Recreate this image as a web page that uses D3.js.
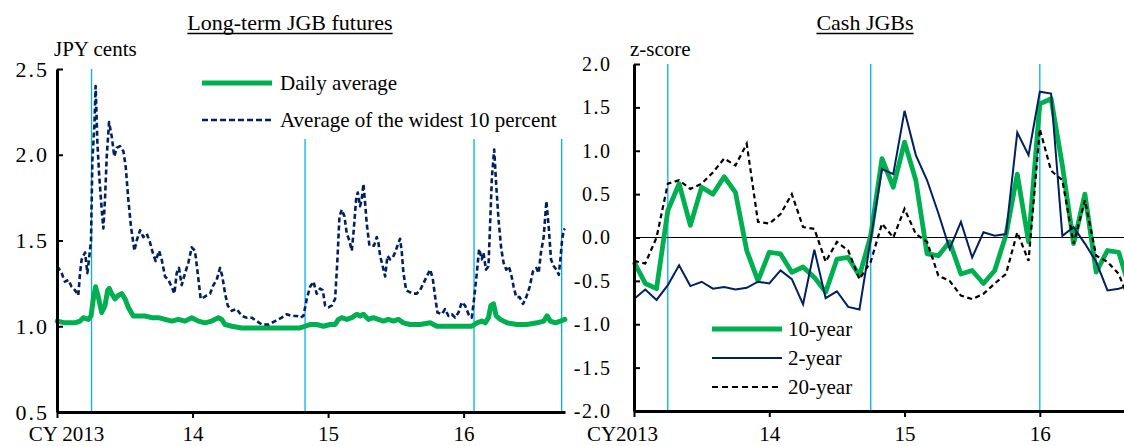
<!DOCTYPE html>
<html>
<head>
<meta charset="utf-8">
<script src="https://cdn.jsdelivr.net/npm/d3@7"></script>
<style>
  body { margin: 0; background: #fff; }
  svg { display: block; }
  text { font-family: "Liberation Serif", "Times New Roman", serif; fill: #000; }
</style>
</head>
<body>
<svg id="chart" width="1124" height="446"></svg>
<script>
// ---------- Long-term JGB futures: bid-ask spread (JPY cents), times as decimal years ----------
const wideYears = [2013.002,2013.010,2013.034,2013.059,2013.084,2013.108,2013.133,2013.157,2013.170,2013.182,2013.207,2013.224,2013.236,2013.251,2013.261,2013.276,2013.285,2013.298,2013.312,2013.330,2013.342,2013.354,2013.367,2013.384,2013.403,2013.423,2013.440,2013.465,2013.490,2013.507,2013.526,2013.546,2013.571,2013.588,2013.613,2013.637,2013.662,2013.686,2013.706,2013.728,2013.753,2013.772,2013.797,2013.822,2013.846,2013.866,2013.883,2013.900,2013.920,2013.945,2013.969,2013.994,2014.018,2014.038,2014.060,2014.085,2014.105,2014.129,2014.154,2014.178,2014.203,2014.220,2014.240,2014.260,2014.289,2014.326,2014.363,2014.400,2014.437,2014.474,2014.510,2014.560,2014.609,2014.658,2014.695,2014.732,2014.769,2014.793,2014.818,2014.843,2014.867,2014.892,2014.916,2014.941,2014.961,2014.978,2015.002,2015.027,2015.052,2015.069,2015.084,2015.101,2015.121,2015.138,2015.157,2015.175,2015.187,2015.207,2015.219,2015.236,2015.248,2015.261,2015.273,2015.285,2015.305,2015.322,2015.339,2015.359,2015.371,2015.384,2015.403,2015.421,2015.438,2015.458,2015.477,2015.494,2015.512,2015.531,2015.544,2015.556,2015.576,2015.600,2015.630,2015.654,2015.679,2015.703,2015.728,2015.753,2015.772,2015.790,2015.807,2015.839,2015.863,2015.888,2015.913,2015.937,2015.962,2015.986,2016.011,2016.036,2016.060,2016.077,2016.097,2016.114,2016.134,2016.146,2016.164,2016.183,2016.196,2016.208,2016.225,2016.240,2016.257,2016.277,2016.294,2016.314,2016.331,2016.348,2016.368,2016.387,2016.412,2016.437,2016.461,2016.486,2016.510,2016.535,2016.552,2016.569,2016.589,2016.609,2016.626,2016.643,2016.663,2016.683,2016.700,2016.712,2016.724,2016.736,2016.745];
const wideSpread = [1.33,1.34,1.31,1.26,1.27,1.23,1.21,1.18,1.31,1.39,1.43,1.31,1.39,1.50,1.97,2.17,2.40,2.07,1.87,1.68,1.57,1.74,1.99,2.19,2.11,1.99,2.04,2.05,2.02,1.93,1.74,1.58,1.44,1.50,1.56,1.52,1.54,1.49,1.43,1.38,1.44,1.39,1.29,1.27,1.23,1.19,1.31,1.34,1.24,1.31,1.37,1.46,1.44,1.31,1.16,1.17,1.18,1.19,1.24,1.27,1.34,1.29,1.19,1.12,1.09,1.10,1.06,1.05,1.05,1.03,1.01,1.01,1.03,1.05,1.07,1.06,1.06,1.05,1.06,1.16,1.23,1.26,1.19,1.22,1.21,1.12,1.11,1.12,1.16,1.39,1.64,1.68,1.64,1.54,1.50,1.44,1.54,1.74,1.78,1.70,1.74,1.83,1.72,1.60,1.47,1.47,1.47,1.52,1.49,1.41,1.35,1.29,1.41,1.39,1.40,1.43,1.47,1.51,1.43,1.31,1.21,1.20,1.19,1.19,1.21,1.25,1.29,1.33,1.28,1.17,1.08,1.07,1.10,1.06,1.07,1.05,1.08,1.14,1.12,1.07,1.05,1.16,1.31,1.45,1.39,1.43,1.33,1.35,1.62,1.87,2.03,1.82,1.62,1.45,1.37,1.33,1.35,1.31,1.23,1.17,1.17,1.13,1.17,1.23,1.32,1.34,1.31,1.43,1.52,1.73,1.58,1.39,1.35,1.33,1.30,1.39,1.50,1.56,1.57];

const avgYears = [2013.002,2013.059,2013.133,2013.170,2013.194,2013.231,2013.251,2013.268,2013.285,2013.305,2013.330,2013.354,2013.374,2013.386,2013.403,2013.428,2013.453,2013.477,2013.502,2013.526,2013.563,2013.600,2013.649,2013.699,2013.748,2013.797,2013.846,2013.895,2013.945,2013.994,2014.043,2014.092,2014.141,2014.191,2014.215,2014.240,2014.289,2014.363,2014.461,2014.584,2014.707,2014.793,2014.830,2014.867,2014.916,2014.966,2015.015,2015.052,2015.076,2015.101,2015.138,2015.175,2015.212,2015.236,2015.261,2015.297,2015.334,2015.371,2015.408,2015.445,2015.482,2015.519,2015.556,2015.605,2015.679,2015.753,2015.802,2015.851,2015.925,2015.999,2016.060,2016.097,2016.134,2016.159,2016.183,2016.200,2016.220,2016.240,2016.269,2016.319,2016.392,2016.466,2016.540,2016.589,2016.614,2016.638,2016.675,2016.712,2016.745];
const avgSpread = [1.03,1.02,1.02,1.03,1.05,1.04,1.06,1.16,1.23,1.17,1.08,1.12,1.21,1.22,1.19,1.16,1.18,1.19,1.16,1.11,1.06,1.06,1.06,1.05,1.05,1.04,1.03,1.04,1.03,1.05,1.03,1.02,1.03,1.05,1.04,1.01,1.00,0.99,0.99,0.99,0.99,0.99,1.00,1.01,1.01,1.00,1.01,1.01,1.04,1.05,1.04,1.05,1.07,1.06,1.07,1.04,1.05,1.04,1.03,1.04,1.03,1.04,1.02,1.01,1.01,1.02,1.00,1.00,1.00,1.00,1.00,1.02,1.03,1.02,1.05,1.12,1.13,1.06,1.04,1.02,1.01,1.01,1.02,1.03,1.06,1.03,1.02,1.03,1.04];

const futuresTicks = [0.5, 1.0, 1.5, 2.0, 2.5];
const yearLabelsLeft = ["CY 2013", "14", "15", "16"];
// Policy event dates marked with vertical lines
const eventDates = ["2013-04-04", "2014-10-31", "2016-01-29", "2016-09-21"];

// ---------- Cash JGBs: monthly z-scores, Jan 2013 onward ----------
const tenYear    = [-0.28,-0.53,-0.59,0.31,0.62,0.14,0.58,0.50,0.70,0.52,-0.15,-0.50,-0.17,-0.19,-0.40,-0.34,-0.46,-0.63,-0.25,-0.23,-0.44,0.02,0.91,0.58,1.10,0.66,-0.19,-0.21,-0.05,-0.42,-0.38,-0.53,-0.38,0.03,0.73,-0.05,1.54,1.60,0.83,-0.07,0.50,-0.40,-0.15,-0.17,-0.60];
const twoYear    = [-0.71,-0.60,-0.72,-0.55,-0.32,-0.56,-0.51,-0.59,-0.57,-0.60,-0.58,-0.51,-0.53,-0.38,-0.48,-0.77,-0.14,-0.70,-0.62,-0.80,-0.83,-0.02,0.79,0.73,1.46,0.95,0.66,0.28,-0.13,0.18,-0.23,0.06,0.02,0.04,1.21,0.95,1.68,1.66,0.02,0.12,-0.07,-0.28,-0.61,-0.59,-0.55];
const twentyYear = [-0.27,-0.30,0.00,0.62,0.66,0.56,0.62,0.75,0.91,0.83,1.08,0.18,0.16,0.27,0.50,0.12,0.10,-0.28,-0.05,-0.15,-0.48,-0.28,0.16,0.00,0.33,0.04,-0.05,-0.44,-0.50,-0.67,-0.71,-0.65,-0.53,-0.42,0.06,-0.27,1.25,0.77,0.66,-0.07,0.43,-0.21,-0.28,-0.42,-0.75];
const zTicks = [-2.0, -1.5, -1.0, -0.5, 0.0, 0.5, 1.0, 1.5, 2.0];
const yearMonthsRight = ["2013-01", "2014-01", "2015-01", "2016-01"];
const yearLabelsRight = ["CY2013", "14", "15", "16"];
const eventMonths = ["2013-04", "2014-10", "2016-01"];

// ---------- helpers ----------
const GREEN = "#00b050", NAVY = "#002060", SKY = "#00b0f0";
const parseDay = d3.timeParse("%Y-%m-%d");
const monthKey = d3.timeFormat("%Y-%m");
function yearToDate(y) {
  const yr = Math.floor(y);
  const a = new Date(yr, 0, 1), b = new Date(yr + 1, 0, 1);
  return new Date(+a + (y - yr) * (b - a));
}
function styleAxis(g, size, spacing) {
  g.attr("font-family", null).attr("font-size", null);
  g.select(".domain").attr("stroke", "#000").attr("stroke-width", 3);
  g.selectAll(".tick line").attr("stroke", "#000").attr("stroke-width", 2);
  g.selectAll(".tick text").style("font-size", size + "px")
    .style("letter-spacing", (spacing || 0) + "px").attr("fill", "#000");
}
function title(x, label) {
  const t = svg.append("text").attr("x", x).attr("y", 30).attr("text-anchor", "middle")
    .style("font-size", "22px").text(label);
  const w = t.node().getComputedTextLength();
  svg.append("line").attr("x1", x - w / 2).attr("x2", x + w / 2)
    .attr("y1", 33.5).attr("y2", 33.5).attr("stroke", "#000").attr("stroke-width", 1.4);
}

const svg = d3.select("#chart");

// ================= Left panel =================
const xL = d3.scaleTime().domain([new Date(2013, 0, 1), new Date(2016, 8, 30)]).range([57, 565]);
const yL = d3.scaleLinear().domain([0.5, 2.5]).range([412, 69]);

title(290, "Long-term JGB futures");
svg.append("text").attr("x", 54).attr("y", 56).style("font-size", "21px").text("JPY cents");

svg.append("g").selectAll("line").data(eventDates).join("line")
  .attr("x1", d => xL(parseDay(d))).attr("x2", d => xL(parseDay(d)))
  .attr("y1", yL(2.5)).attr("y2", yL(0.5))
  .attr("stroke", SKY).attr("stroke-width", 1.3);

const avgPts = avgYears.map((t, i) => [yearToDate(t), avgSpread[i]]);
const widePts = wideYears.map((t, i) => [yearToDate(t), wideSpread[i]]);
const lineL = d3.line().x(d => xL(d[0])).y(d => yL(d[1]));

svg.append("path").datum(avgPts).attr("d", lineL)
  .attr("fill", "none").attr("stroke", GREEN).attr("stroke-width", 5)
  .attr("stroke-linejoin", "round").attr("stroke-linecap", "round");
svg.append("path").datum(widePts).attr("d", lineL)
  .attr("fill", "none").attr("stroke", NAVY).attr("stroke-width", 2.6)
  .attr("stroke-dasharray", "5,3").attr("stroke-linejoin", "round");

const axLy = svg.append("g").attr("transform", "translate(57,0)")
  .call(d3.axisLeft(yL).tickValues(futuresTicks).tickFormat(d => d.toFixed(1))
    .tickSizeInner(-6).tickSizeOuter(0).tickPadding(8));
styleAxis(axLy, 22, 2);

const yearDatesLeft = yearLabelsLeft.map((_, i) => new Date(2013 + i, 0, 1));
const axLx = svg.append("g").attr("transform", "translate(0,412)")
  .call(d3.axisBottom(xL).tickValues(yearDatesLeft).tickFormat((d, i) => yearLabelsLeft[i])
    .tickSizeInner(6).tickSizeOuter(0).tickPadding(8));
styleAxis(axLx, 21);
axLx.selectAll(".tick text").filter((d, i) => i === 0).attr("dx", 9);

// legend
const legL = svg.append("g");
legL.append("rect").attr("x", 196).attr("y", 64).attr("width", 368).attr("height", 75).attr("fill", "#fff");
legL.append("line").attr("x1", 202).attr("x2", 272).attr("y1", 83).attr("y2", 83)
  .attr("stroke", GREEN).attr("stroke-width", 5);
legL.append("text").attr("x", 280).attr("y", 89.5).style("font-size", "21px").text("Daily average");
legL.append("line").attr("x1", 202).attr("x2", 272).attr("y1", 120).attr("y2", 120)
  .attr("stroke", NAVY).attr("stroke-width", 2.6).attr("stroke-dasharray", "6,3");
legL.append("text").attr("x", 280).attr("y", 126.5).style("font-size", "21px").text("Average of the widest 10 percent");

// ================= Right panel =================
const months = d3.timeMonth.range(new Date(2013, 0, 1), new Date(2016, 9, 1)).map(monthKey);
const xR = d3.scalePoint().domain(months).range([634, 1130]);
const yR = d3.scaleLinear().domain([-2, 2]).range([411, 64]);

title(865, "Cash JGBs");
svg.append("text").attr("x", 630).attr("y", 56).style("font-size", "21px").text("z-score");

svg.append("g").selectAll("line").data(eventMonths).join("line")
  .attr("x1", d => xR(d)).attr("x2", d => xR(d))
  .attr("y1", yR(2)).attr("y2", yR(-2))
  .attr("stroke", SKY).attr("stroke-width", 1.3);

svg.append("line").attr("x1", 634).attr("x2", 1124).attr("y1", yR(0)).attr("y2", yR(0))
  .attr("stroke", "#000").attr("stroke-width", 1.2);

const lineR = d3.line().x((d, i) => xR(months[i])).y(d => yR(d));
svg.append("path").datum(tenYear).attr("d", lineR)
  .attr("fill", "none").attr("stroke", GREEN).attr("stroke-width", 4.8).attr("stroke-linejoin", "round");
svg.append("path").datum(twoYear).attr("d", lineR)
  .attr("fill", "none").attr("stroke", NAVY).attr("stroke-width", 2);
svg.append("path").datum(twentyYear).attr("d", lineR)
  .attr("fill", "none").attr("stroke", "#000").attr("stroke-width", 2.2).attr("stroke-dasharray", "5,3.5");

const axRy = svg.append("g").attr("transform", "translate(634,0)")
  .call(d3.axisLeft(yR).tickValues(zTicks).tickFormat(d => d.toFixed(1))
    .tickSizeInner(-6).tickSizeOuter(0).tickPadding(22.5));
styleAxis(axRy, 20, 1.5);

const axRx = svg.append("g").attr("transform", "translate(0,411)")
  .call(d3.axisBottom(xR).tickValues(yearMonthsRight).tickFormat((d, i) => yearLabelsRight[i])
    .tickSizeInner(6).tickSizeOuter(0).tickPadding(9));
styleAxis(axRx, 21);
axRx.selectAll(".tick text").filter((d, i) => i === 0).attr("dx", -12);

// legend
const legR = svg.append("g");
legR.append("rect").attr("x", 706).attr("y", 314).attr("width", 160).attr("height", 86).attr("fill", "#fff");
legR.append("line").attr("x1", 712).attr("x2", 782).attr("y1", 329).attr("y2", 329)
  .attr("stroke", GREEN).attr("stroke-width", 5);
legR.append("text").attr("x", 788).attr("y", 336).style("font-size", "21px").text("10-year");
legR.append("line").attr("x1", 712).attr("x2", 782).attr("y1", 358).attr("y2", 358)
  .attr("stroke", NAVY).attr("stroke-width", 2);
legR.append("text").attr("x", 788).attr("y", 365).style("font-size", "21px").text("2-year");
legR.append("line").attr("x1", 712).attr("x2", 782).attr("y1", 387).attr("y2", 387)
  .attr("stroke", "#000").attr("stroke-width", 2.2).attr("stroke-dasharray", "6,4");
legR.append("text").attr("x", 788).attr("y", 394).style("font-size", "21px").text("20-year");
</script>
</body>
</html>
